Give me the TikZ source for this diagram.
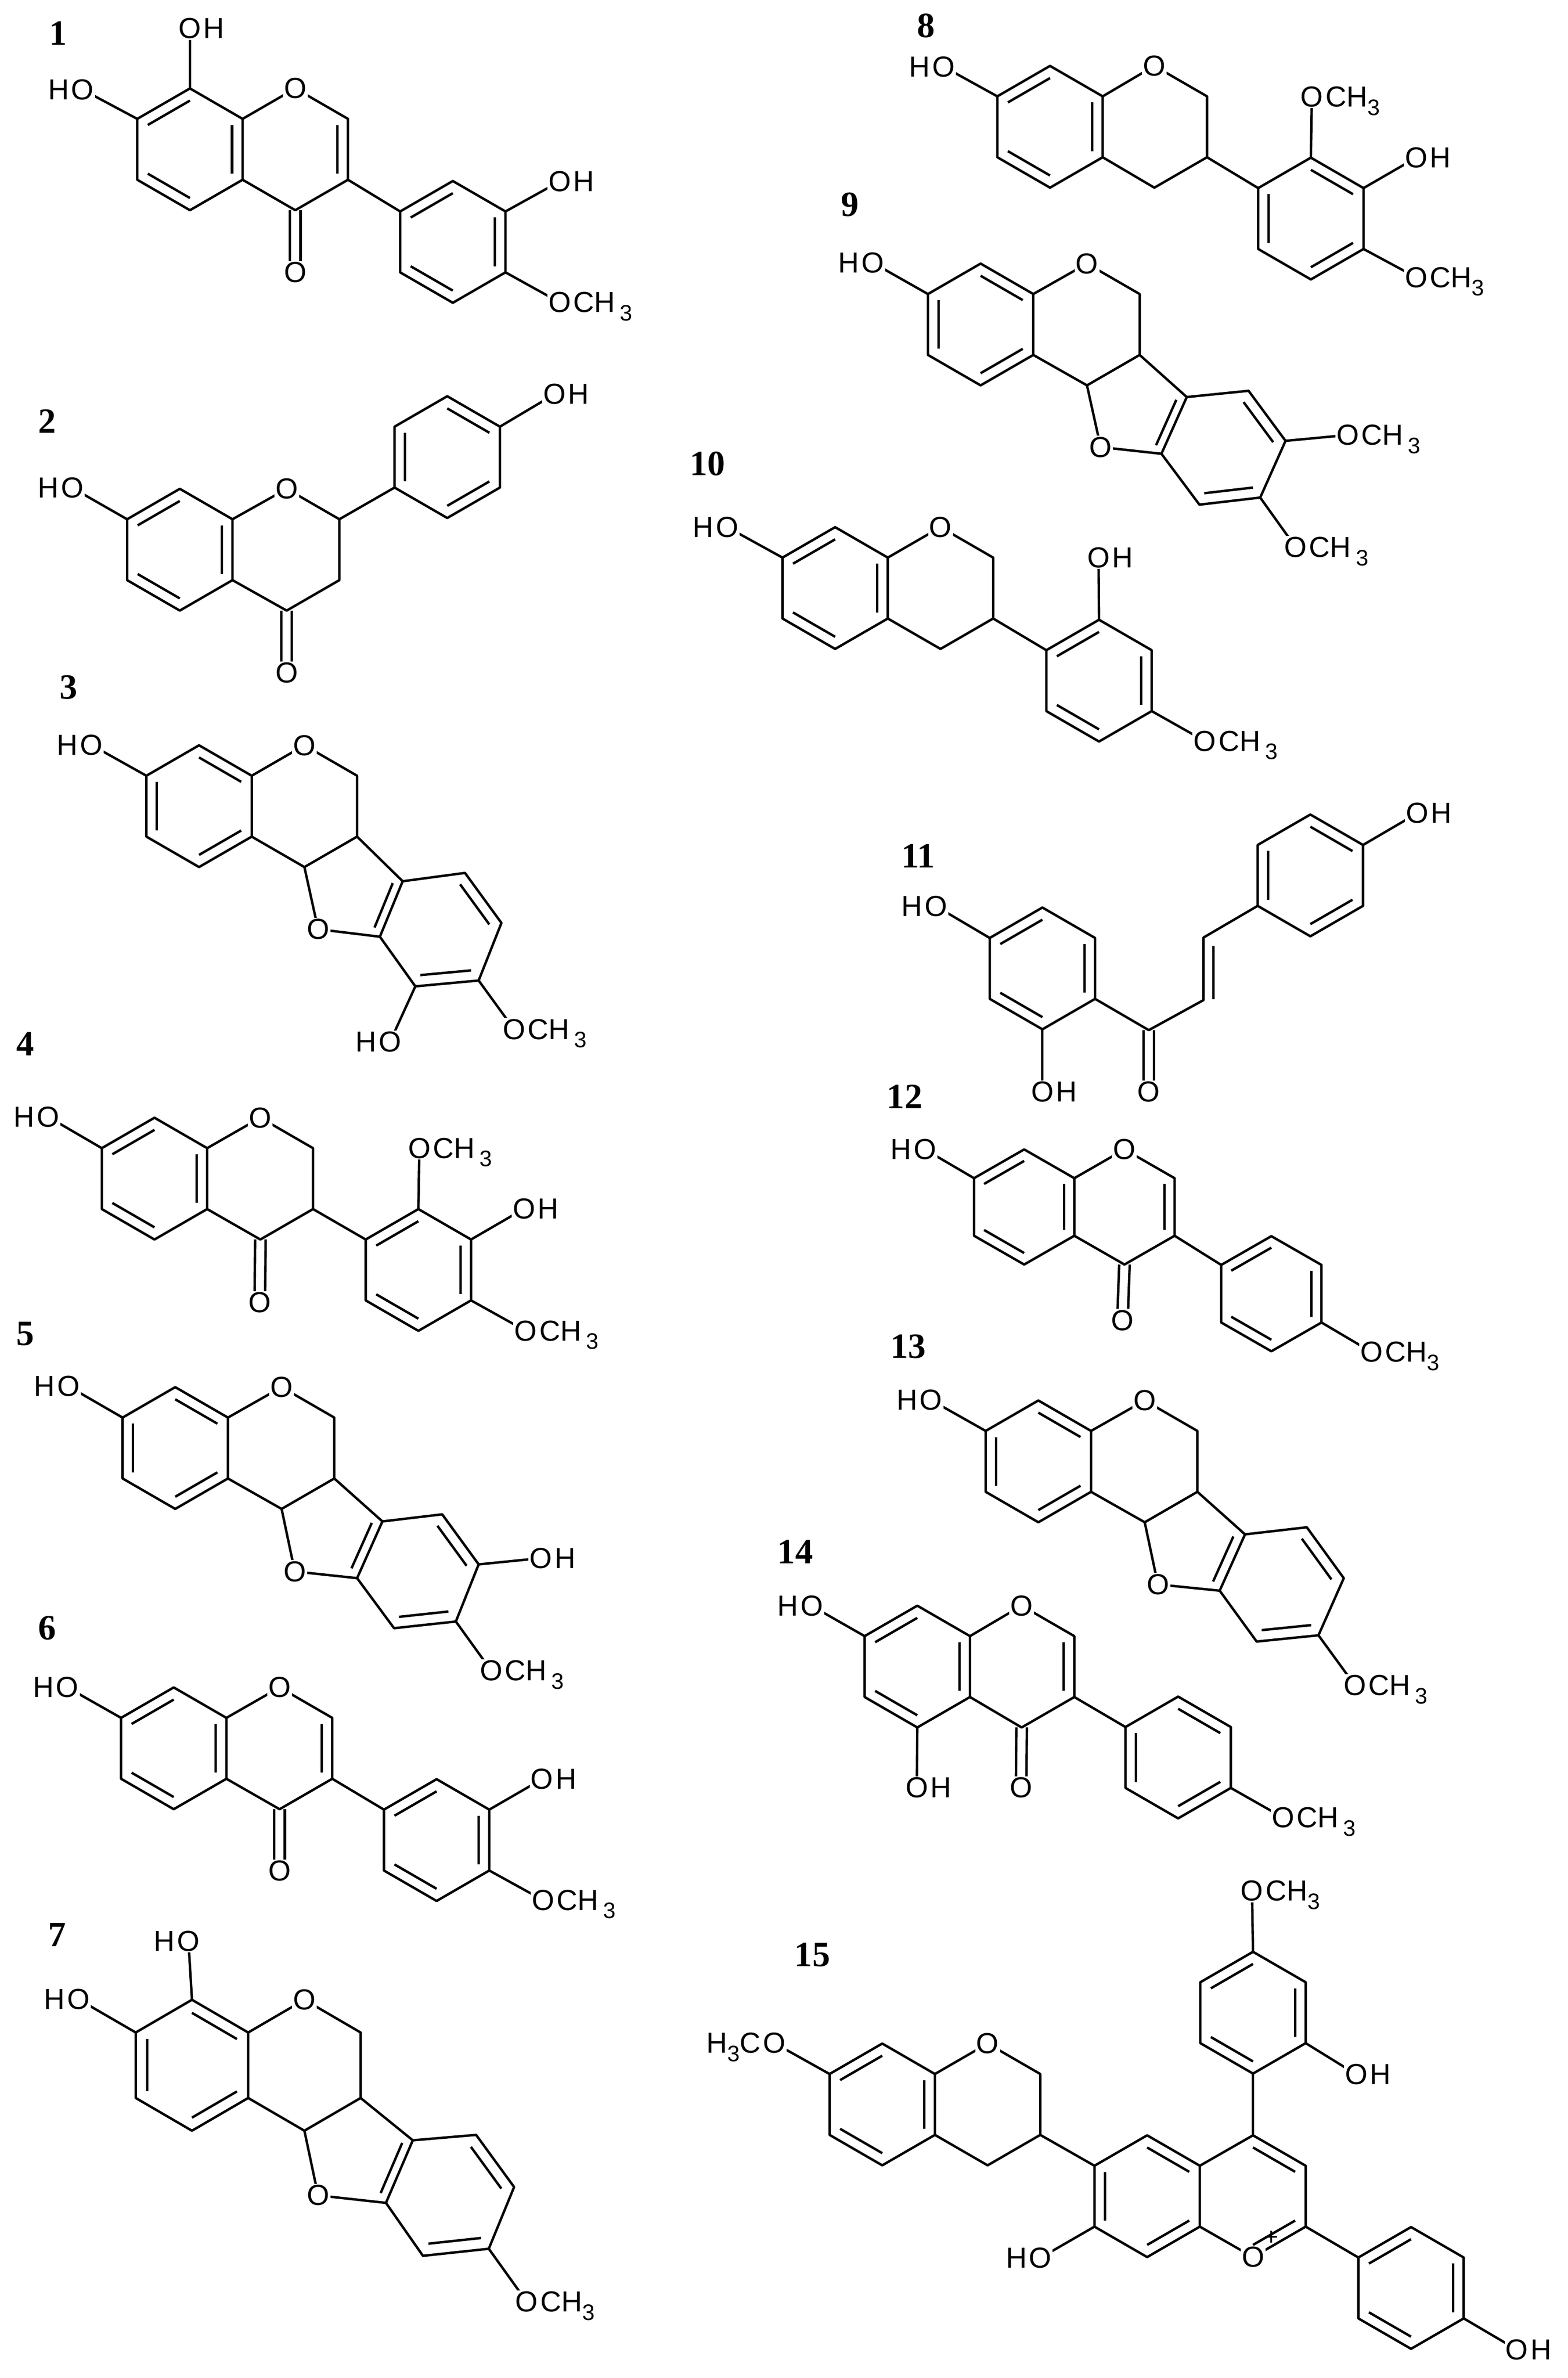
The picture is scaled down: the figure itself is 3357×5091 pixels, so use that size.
\documentclass[tikz,border=0pt]{standalone}
\usepackage{fontspec}
\newfontfamily\labf{Liberation Sans}
\newfontfamily\numf{Liberation Serif}
\usetikzlibrary{calc}
\def\hw{104}\def\hv{146}
\newcommand\hx[3]{\coordinate (#1) at (#2,#3);
 \coordinate (#11) at (#2,#3-\hv);
 \coordinate (#12) at (#2+\hw,#3-0.5*\hv);
 \coordinate (#13) at (#2+\hw,#3+0.5*\hv);
 \coordinate (#14) at (#2,#3+\hv);
 \coordinate (#15) at (#2-\hw,#3+0.5*\hv);
 \coordinate (#16) at (#2-\hw,#3-0.5*\hv);}
\newcommand\hexd[1]{\draw (#11)--(#12)--(#13)--(#14)--(#15)--(#16)--cycle;}
\newcommand\db[3]{\draw ($(#1)!.2!(#3)$)--($(#2)!.2!(#3)$);}
\newcommand\cdb[2]{\draw ([xshift=-2.6pt]#1)--([xshift=-2.6pt]#2);\draw ([xshift=2.6pt]#1)--([xshift=2.6pt]#2);}
\newcommand\three{\,\raisebox{-0.55ex}{\fontsize{12}{12}\selectfont 3}}
\newcommand\threet{\raisebox{-0.55ex}{\fontsize{12}{12}\selectfont 3}}
\newcommand\OR[2]{\node[lab] (t) at (#1) {O};\node[lab,anchor=base west] at ([xshift=-1.2pt]t.base east) {#2};}
\newcommand\OL[2]{\node[lab] (t) at (#1) {O};\node[lab,anchor=base east] at ([xshift=1.2pt]t.base west) {#2};}
\newcommand\ringO[1]{\node[lab] at (#1) {O};}
\newcommand\sub[3]{\coordinate (#3) at (#2); \draw (#1)--(#3);}
\newcommand\ptero{%
 \hexd{a}\draw (a2)--(c1)--(c2)--(c3)--(c4)--(a3);
 \draw (c4)--(fo)--(d6); \draw (c3)--(d1);
 \draw (d1)--(d2)--(d3)--(d4)--(d5)--(d6)--cycle;
 \db{a5}{a6}{a}\db{a1}{a2}{a}\db{a3}{a4}{a}
 \db{d1}{d6}{fc}\db{d2}{d3}{dc}\db{d4}{d5}{dc}}
\begin{document}
\begin{tikzpicture}[x=0.25pt,y=-0.25pt,line width=1.3pt,line join=round,
 zA/.style={xscale=1.0842,yscale=0.8929},
 lab/.style={font=\labf\fontsize{15.5}{16}\selectfont,fill=white,inner sep=0.6pt},
 num/.style={font=\numf\bfseries\fontsize{19}{20}\selectfont}]
\useasboundingbox[fill=white] (0,0) rectangle (3357,5091);
% ---------- 1
\begin{scope}[shift={(0,0)},zA]
\node[num] at (115,80) {1};
\hx{a}{375}{358}\hx{c}{583}{358}\hx{b}{894}{580}
\hexd{a}\hexd{b}
\draw (a2)--(c1)--(c2)--(c3)--(c4)--(a3); \draw (c3)--(b6);
\db{a6}{a1}{a}\db{a2}{a3}{a}\db{a4}{a5}{a}\db{c2}{c3}{c}\db{b6}{b1}{b}\db{b2}{b3}{b}\db{b4}{b5}{b}
\sub{a1}{375,68}{o1}\sub{a6}{163,215}{o2}\sub{b2}{1105,435}{o3}\sub{b3}{1105,725}{o4}
\coordinate (o5) at (583,653); \cdb{c4}{o5}
\OR{o1}{H}\OL{o2}{H}\OR{o3}{H}\OR{o4}{CH\three}\ringO{c1}\ringO{o5}
\end{scope}
% ---------- 2
\begin{scope}[shift={(0,0)},zA]
\node[num] at (93,1010) {2};
\hx{a}{355}{1318}\hx{c}{566}{1318}\hx{b}{883}{1096}
\hexd{a}\hexd{b}
\draw (a2)--(c1)--(c2)--(c3)--(c4)--(a3); \draw (c2)--(b5);
\db{a6}{a1}{a}\db{a2}{a3}{a}\db{a4}{a5}{a}\db{b1}{b2}{b}\db{b3}{b4}{b}\db{b5}{b6}{b}
\sub{a6}{143,1170}{o1}\sub{b2}{1095,945}{o2}
\coordinate (o3) at (566,1613); \cdb{c4}{o3}
\OL{o1}{H}\OR{o2}{H}\ringO{c1}\ringO{o3}
\end{scope}
% ---------- 3
\begin{scope}[shift={(0,1400)},zA]
\node[num] at (135,80) {3};
\hx{a}{393}{365}\hx{c}{601}{365}
\coordinate (fo) at (628,660);
\coordinate (d1) at (795,545);\coordinate (d2) at (918,525);\coordinate (d3) at (990,645);
\coordinate (d4) at (945,783);\coordinate (d5) at (820,797);\coordinate (d6) at (750,678);
\coordinate (dc) at (870,662);\coordinate (fc) at (697,568);
\ptero
\sub{a6}{180,218}{o1}\sub{d5}{770,930}{o2}\sub{d4}{1015,900}{o3}
\OL{o1}{H}\OL{o2}{H}\OR{o3}{CH\three}\ringO{c1}\ringO{fo}
\end{scope}
% ---------- 4
\begin{scope}[shift={(0,1400)},zA]
\node[num] at (50,935) {4};
\hx{a}{305}{1258}\hx{c}{514}{1258}\hx{b}{826}{1477}
\hexd{a}\hexd{b}
\draw (a2)--(c1)--(c2)--(c3)--(c4)--(a3); \draw (c3)--(b6);
\db{a6}{a1}{a}\db{a2}{a3}{a}\db{a4}{a5}{a}\db{b6}{b1}{b}\db{b2}{b3}{b}\db{b4}{b5}{b}
\sub{a6}{95,1110}{o1}\sub{b1}{828,1185}{o2}\sub{b2}{1035,1330}{o3}\sub{b3}{1038,1623}{o4}
\coordinate (o5) at (513,1555); \cdb{c4}{o5}
\OL{o1}{H}\OR{o2}{CH\three}\OR{o3}{H}\OR{o4}{CH\three}\ringO{c1}\ringO{o5}
\end{scope}
% ---------- 5
\begin{scope}[shift={(0,2800)},zA]
\node[num] at (50,62) {5};
\hx{a}{346}{336}\hx{c}{556}{336}
\coordinate (fo) at (582,632);
\coordinate (d1) at (755,512);\coordinate (d2) at (873,495);\coordinate (d3) at (945,615);
\coordinate (d4) at (900,752);\coordinate (d5) at (778,768);\coordinate (d6) at (705,648);
\coordinate (dc) at (826,632);\coordinate (fc) at (650,530);
\ptero
\sub{a6}{135,188}{o1}\sub{d3}{1068,600}{o2}\sub{d4}{970,870}{o3}
\OL{o1}{H}\OR{o2}{H}\OR{o3}{CH\three}\ringO{c1}\ringO{fo}
\end{scope}
% ---------- 6
\begin{scope}[shift={(0,2800)},zA]
\node[num] at (93,768) {6};
\hx{a}{343}{1056}\hx{c}{552}{1056}\hx{b}{862}{1276}
\hexd{a}\hexd{b}
\draw (a2)--(c1)--(c2)--(c3)--(c4)--(a3); \draw (c3)--(b6);
\db{a6}{a1}{a}\db{a2}{a3}{a}\db{a4}{a5}{a}\db{c2}{c3}{c}\db{b6}{b1}{b}\db{b2}{b3}{b}\db{b4}{b5}{b}
\sub{a6}{133,910}{o1}\sub{b2}{1070,1130}{o2}\sub{b3}{1072,1420}{o3}
\coordinate (o4) at (552,1350); \cdb{c4}{o4}
\OL{o1}{H}\OR{o2}{H}\OR{o3}{CH\three}\ringO{c1}\ringO{o4}
\end{scope}
% ---------- 7
\def\hw{111}\def\hv{157}
\begin{scope}[shift={(0,3691)},zA]
\node[num] at (113,505) {7};
\hx{a}{379}{818}\hx{c}{601}{818}
\coordinate (fo) at (628,1130);
\coordinate (d1) at (815,998);\coordinate (d2) at (940,985);\coordinate (d3) at (1015,1110);
\coordinate (d4) at (965,1258);\coordinate (d5) at (835,1275);\coordinate (d6) at (762,1148);
\coordinate (dc) at (889,1129);\coordinate (fc) at (710,1030);
\ptero
\sub{a1}{372,520}{o1}\sub{a6}{155,660}{o2}\sub{d4}{1040,1385}{o3}
\OL{o1}{H}\OL{o2}{H}\OR{o3}{CH\threet}\ringO{c1}\ringO{fo}
\end{scope}
\def\hw{104}\def\hv{146}
% ---------- 8
\begin{scope}[shift={(1657,0)},zA]
\node[num] at (300,62) {8};
\hx{a}{545}{304}\hx{c}{751}{304}\hx{b}{1060}{524}
\hexd{a}\hexd{b}
\draw (a2)--(c1)--(c2)--(c3)--(c4)--(a3); \draw (c3)--(b6);
\db{a6}{a1}{a}\db{a2}{a3}{a}\db{a4}{a5}{a}\db{b1}{b2}{b}\db{b3}{b4}{b}\db{b5}{b6}{b}
\sub{a6}{335,160}{o1}\sub{b1}{1062,232}{o2}\sub{b2}{1268,378}{o3}\sub{b3}{1268,665}{o4}
\OL{o1}{H}\OR{o2}{CH\threet}\OR{o3}{H}\OR{o4}{CH\threet}\ringO{c1}
\end{scope}
% ---------- 9
\begin{scope}[shift={(1657,0)},zA]
\node[num] at (150,490) {9};
\hx{a}{408}{778}\hx{c}{618}{778}
\coordinate (fo) at (645,1072);
\coordinate (d1) at (815,952);\coordinate (d2) at (937,937);\coordinate (d3) at (1010,1057);
\coordinate (d4) at (960,1193);\coordinate (d5) at (840,1210);\coordinate (d6) at (765,1088);
\coordinate (dc) at (888,1073);\coordinate (fc) at (712,985);
\ptero
\sub{a6}{195,630}{o1}\sub{d3}{1133,1043}{o2}\sub{d4}{1030,1312}{o3}
\OL{o1}{H}\OR{o2}{CH\three}\OR{o3}{CH\three}\ringO{c1}\ringO{fo}
\end{scope}
% ---------- 10
\begin{scope}[shift={(1300,850)},zA]
\node[num] at (198,160) {10};
\hx{a}{450}{458}\hx{c}{658}{458}\hx{b}{971}{680}
\hexd{a}\hexd{b}
\draw (a2)--(c1)--(c2)--(c3)--(c4)--(a3); \draw (c3)--(b6);
\db{a6}{a1}{a}\db{a2}{a3}{a}\db{a4}{a5}{a}\db{b6}{b1}{b}\db{b2}{b3}{b}\db{b4}{b5}{b}
\sub{a6}{237,312}{o1}\sub{b1}{970,385}{o2}\sub{b3}{1180,825}{o3}
\OL{o1}{H}\OR{o2}{H}\OR{o3}{CH\three}\ringO{c1}
\end{scope}
% ---------- 11
\begin{scope}[shift={(1657,1400)},zA]
\node[num] at (285,485) {11};
\hx{a}{530}{754}\hx{b}{1059}{531}
\hexd{a}\hexd{b}
\coordinate (k) at (740,902);\coordinate (e1) at (848,830);\coordinate (e2) at (848,680);
\draw (a3)--(k)--(e1)--(e2)--(b5);
\draw (868,700)--(868,828);
\db{a6}{a1}{a}\db{a2}{a3}{a}\db{a4}{a5}{a}\db{b5}{b6}{b}\db{b1}{b2}{b}\db{b3}{b4}{b}
\coordinate (ko) at (740,1050); \cdb{k}{ko}
\sub{a6}{320,605}{o1}\sub{a4}{530,1050}{o2}\sub{b2}{1270,382}{o3}
\OL{o1}{H}\OR{o2}{H}\OR{o3}{H}\ringO{ko}
\end{scope}
% ---------- 12
\def\hw{99}\def\hv{138}
\begin{scope}[shift={(1657,2200)},zA]
\node[num] at (258,165) {12};
\hx{a}{494}{430}\hx{c}{692}{430}\hx{b}{982}{638}
\hexd{a}\hexd{b}
\draw (a2)--(c1)--(c2)--(c3)--(c4)--(a3); \draw (c3)--(b6);
\db{a6}{a1}{a}\db{a2}{a3}{a}\db{a4}{a5}{a}\db{c2}{c3}{c}\db{b6}{b1}{b}\db{b2}{b3}{b}\db{b4}{b5}{b}
\sub{a6}{298,292}{o1}\sub{b3}{1180,778}{o2}
\coordinate (o3) at (688,702); \cdb{c4}{o3}
\OL{o1}{H}\OR{o2}{CH\threet}\ringO{c1}\ringO{o3}
\end{scope}
\def\hw{104}\def\hv{146}
% ---------- 13
\begin{scope}[shift={(1657,2200)},zA]
\node[num] at (265,765) {13};
\hx{a}{522}{1040}\hx{c}{732}{1040}
\coordinate (fo) at (758,1335);
\coordinate (d1) at (930,1215);\coordinate (d2) at (1052,1198);\coordinate (d3) at (1125,1320);
\coordinate (d4) at (1075,1457);\coordinate (d5) at (953,1472);\coordinate (d6) at (880,1350);
\coordinate (dc) at (1003,1335);\coordinate (fc) at (815,1240);
\ptero
\sub{a6}{310,893}{o1}\sub{d4}{1147,1577}{o2}
\OL{o1}{H}\OR{o2}{CH\three}\ringO{c1}\ringO{fo}
\end{scope}
% ---------- 14
\begin{scope}[shift={(1657,2800)},zA]
\node[num] at (42,585) {14};
\hx{a}{283}{860}\hx{c}{489}{860}\hx{b}{798}{1078}
\hexd{a}\hexd{b}
\draw (a2)--(c1)--(c2)--(c3)--(c4)--(a3); \draw (c3)--(b6);
\db{a6}{a1}{a}\db{a2}{a3}{a}\db{a4}{a5}{a}\db{c2}{c3}{c}\db{b1}{b2}{b}\db{b3}{b4}{b}\db{b5}{b6}{b}
\sub{a6}{75,715}{o1}\sub{a4}{282,1150}{o2}\sub{b3}{1005,1222}{o3}
\coordinate (o4) at (488,1150); \cdb{c4}{o4}
\OL{o1}{H}\OR{o2}{H}\OR{o3}{CH\three}\ringO{c1}\ringO{o4}
\end{scope}
% ---------- 15
\begin{scope}[shift={(1300,3691)},zA]
\node[num] at (405,553) {15};
\hx{a}{543}{912}\hx{c}{751}{912}\hx{d}{1066}{1132}\hx{e}{1275}{1132}\hx{f}{1275}{692}\hx{g}{1587}{1352}
\hexd{a}\hexd{d}\hexd{f}\hexd{g}
\draw (a2)--(c1)--(c2)--(c3)--(c4)--(a3); \draw (c3)--(d6);
\draw (d2)--(e1)--(e2)--(e3)--(e4)--(d3); \draw (e1)--(f4); \draw (e3)--(g6);
\db{a6}{a1}{a}\db{a2}{a3}{a}\db{a4}{a5}{a}
\db{d1}{d2}{d}\db{d3}{d4}{d}\db{d5}{d6}{d}
\db{e1}{e2}{e}\db{e3}{e4}{e}
\db{f6}{f1}{f}\db{f2}{f3}{f}\db{f4}{f5}{f}
\db{g6}{g1}{g}\db{g2}{g3}{g}\db{g4}{g5}{g}
\sub{a6}{330,765}{o1}\sub{d5}{855,1280}{o2}\sub{f1}{1273,400}{o3}\sub{f3}{1479,840}{o4}\sub{g3}{1796,1500}{o5}
\OL{o1}{H\threet C}\OL{o2}{H}\OR{o3}{CH\threet}\OR{o4}{H}\OR{o5}{H}\ringO{c1}\ringO{e4}
\node[font=\labf\fontsize{13}{13}\selectfont,inner sep=0pt] at (1312,1232) {+};
\end{scope}
\end{tikzpicture}
\end{document}
